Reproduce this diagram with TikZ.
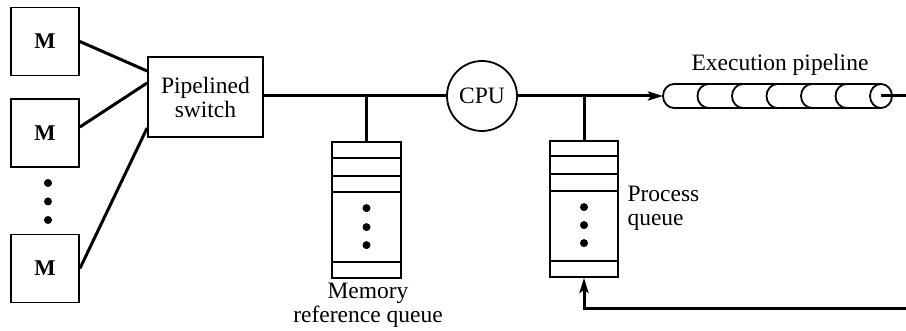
\documentclass[tikz,border=0pt]{standalone}
\usepackage{fontspec}
\setmainfont{Liberation Serif}
\usetikzlibrary{arrows.meta}
\begin{document}
\begin{tikzpicture}[x=1pt,y=-1pt,
  font=\fontsize{23.5}{24}\selectfont,
  box/.style={draw, line width=1.8pt, inner sep=0pt, align=center},
  mbox/.style={box, minimum width=68pt, minimum height=68pt, font=\fontsize{22.5}{24}\selectfont\bfseries},
  qbox/.style={box, minimum width=69pt, minimum height=136pt},
  qline/.style={line width=1.6pt},
  conn/.style={line width=3pt},
  arr/.style={conn, -{Stealth[length=15pt,width=9pt,inset=3pt]}},
  bullet/.style={circle, fill, inner sep=0pt, minimum size=8pt},
  pipe/.style={line width=1.8pt}]
\useasboundingbox (0,0) rectangle (906,331);

% memory modules
\node[mbox] (m1) at (45,41.5) {M};
\node[mbox] (m2) at (45,133) {M};
\node[mbox] (m3) at (45,268.5) {M};
\node[bullet] (d1) at (48,183) {};
\node[bullet] (d2) at (48,201.5) {};
\node[bullet] (d3) at (48,220) {};

% switch
\node[box, minimum width=115pt, minimum height=80pt] (sw) at (205.5,97) {Pipelined\\switch};

\draw[conn] (m1.east) -- ([yshift=26pt]sw.west);
\draw[conn] ([yshift=6pt]m2.east) -- ([yshift=14pt]sw.west);
\draw[conn] (m3.east) -- ([yshift=-31pt]sw.west);

% CPU
\node[draw, circle, line width=1.8pt, minimum size=70pt, inner sep=0pt] (cpu) at (482,96) {CPU};
\draw[conn] (sw.east |- cpu.center) -- (cpu.west);

% memory reference queue
\node[qbox] (mq) at (366.5,210) {};
\foreach \o in {17,35,51} \draw[qline] ([yshift=-\o pt]mq.north west) -- ([yshift=-\o pt]mq.north east);
\draw[qline] ([yshift=17pt]mq.south west) -- ([yshift=17pt]mq.south east);
\foreach \o in {67,86,104} \node[bullet] at ([yshift=-\o pt]mq.north) {};
\draw[conn] (mq.north) -- (mq.north |- cpu.center);
\node[align=center] (mql) at (368,305) {Memory\\reference queue};

% process queue
\node[qbox, minimum width=68pt] (pq) at (584,209) {};
\foreach \o in {16,34,51} \draw[qline] ([yshift=-\o pt]pq.north west) -- ([yshift=-\o pt]pq.north east);
\draw[qline] ([yshift=17pt]pq.south west) -- ([yshift=17pt]pq.south east);
\foreach \o in {67,85,103} \node[bullet] at ([yshift=-\o pt]pq.north) {};
\node[align=left, anchor=west] (pql) at (624,208.5) {Process\\queue};

% execution pipeline
\coordinate (pin) at (663,96);
\coordinate (pout) at (881,96);
\draw[pipe] (674,84) -- (881,84);
\draw[pipe] (674,108) -- (881,108);
\foreach \k in {0,...,5}
  \draw[pipe] ({674+34.5*\k},84) arc[start angle=90, end angle=270, x radius=11pt, y radius=12pt];
\draw[pipe] (pout) ellipse [x radius=11pt, y radius=12pt];
\node (pl) at (780,65) {Execution pipeline};

\draw[arr] (cpu.east) -- (pin);
\draw[conn] (pq.north) -- (pq.north |- cpu.center);

% output and return path
\coordinate (outR) at (906,96);
\coordinate (retR) at (906,309);
\draw[conn] (pout) -- (outR);
\draw[arr] (retR) -| (pq.south);
\end{tikzpicture}
\end{document}
